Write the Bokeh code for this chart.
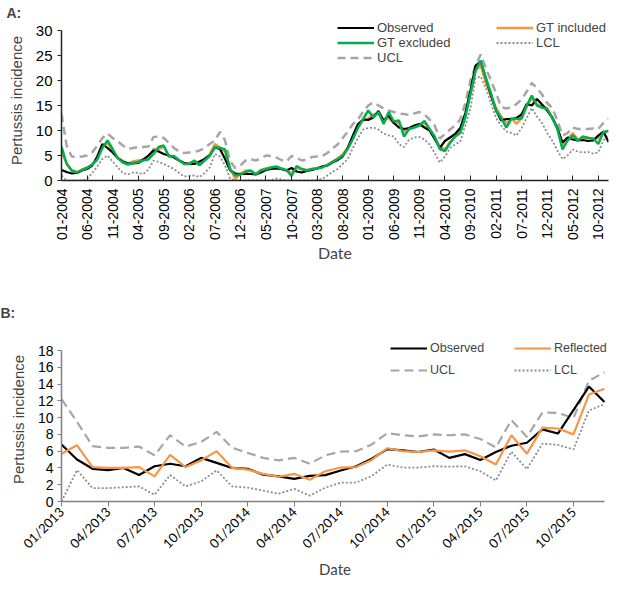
import math
from bokeh.plotting import figure
from bokeh.models import Range1d, FixedTicker, Legend, LegendItem, Title
from bokeh.layouts import column
from bokeh.embed import file_html
from bokeh.resources import INLINE

# ---------------- Panel A data (monthly, 01-2004 .. 12-2012) ----------------
a_tick_labels = ["01-2004", "06-2004", "11-2004", "04-2005", "09-2005", "02-2006",
                 "07-2006", "12-2006", "05-2007", "10-2007", "03-2008", "08-2008",
                 "01-2009", "06-2009", "11-2009", "04-2010", "09-2010", "02-2011",
                 "07-2011", "12-2011", "05-2012", "10-2012"]

a_observed = [2.1, 1.7, 1.4, 1.5, 2.0, 2.3, 3.0, 4.8, 7.3, 6.5, 5.6, 4.5,
              3.8, 3.4, 3.4, 3.5, 4.2, 5.0, 6.0, 5.8, 5.3, 5.0, 4.6, 4.0,
              3.5, 3.3, 3.3, 3.8, 4.3, 5.0, 6.6, 6.3, 4.3, 2.0, 1.4, 1.3,
              1.3, 1.3, 1.2, 1.6, 2.1, 2.3, 2.4, 2.3, 2.0, 2.5, 1.8, 1.6,
              1.9, 2.1, 2.4, 2.8, 3.0, 3.6, 4.1, 4.8, 6.5, 9.0, 11.3, 12.2,
              12.1, 12.6, 13.9, 12.0, 13.0, 11.5, 10.6, 10.3, 10.5, 11.0, 11.3, 10.6,
              10.0, 8.3, 6.5, 7.9, 8.6, 9.3, 10.5, 13.5, 18.0, 23.0, 23.8, 20.5,
              17.0, 14.0, 12.0, 12.3, 12.3, 12.5, 13.2, 15.3, 15.0, 16.3, 15.2, 14.0,
              12.6, 10.5, 7.6, 8.6, 8.2, 8.0, 8.1, 7.9, 8.0, 9.0, 9.8, 7.7]

a_gt_included = [5.7, 3.5, 2.0, 1.7, 2.2, 2.6, 3.2, 4.5, 6.8, 7.5, 6.0, 4.5,
                 3.8, 3.4, 3.8, 4.0, 4.2, 4.5, 6.3, 6.2, 6.8, 5.0, 4.8, 4.0,
                 3.4, 3.5, 3.8, 3.0, 4.3, 5.2, 7.3, 6.6, 5.8, 2.4, 0.3, 1.4,
                 2.0, 1.9, 1.3, 2.1, 2.4, 2.6, 2.6, 2.3, 2.0, 1.5, 2.5, 2.2,
                 2.1, 2.3, 2.5, 2.8, 3.1, 3.8, 4.4, 5.2, 6.6, 8.5, 10.8, 12.0,
                 12.4, 13.2, 13.4, 12.0, 12.5, 11.5, 11.5, 9.8, 10.3, 10.8, 11.2, 11.5,
                 10.2, 8.6, 6.8, 6.2, 7.7, 8.8, 9.8, 13.0, 17.5, 22.0, 23.0, 19.5,
                 17.0, 14.5, 12.8, 11.5, 12.5, 11.3, 12.5, 14.8, 16.5, 15.2, 14.8, 14.5,
                 12.5, 10.5, 7.0, 8.2, 9.5, 8.2, 8.5, 8.6, 8.2, 8.5, 9.5, 10.0]

a_gt_excluded = [6.8, 3.3, 2.0, 1.6, 2.1, 2.5, 3.2, 4.2, 6.5, 8.0, 6.3, 4.5,
                 3.6, 3.2, 3.5, 3.7, 4.0, 4.2, 5.3, 6.7, 7.0, 4.8, 4.9, 4.0,
                 3.3, 3.3, 4.0, 3.1, 4.0, 4.9, 6.7, 6.5, 6.2, 2.2, 1.0, 1.2,
                 1.7, 2.0, 1.2, 2.0, 2.3, 2.6, 2.8, 2.4, 2.1, 0.9, 2.9, 2.3,
                 2.0, 2.3, 2.4, 2.6, 3.1, 3.7, 4.3, 5.0, 6.3, 8.3, 10.5, 12.3,
                 14.0, 12.6, 13.7, 11.3, 13.7, 11.8, 12.0, 8.8, 10.3, 10.6, 11.0, 11.9,
                 10.3, 8.8, 6.3, 5.9, 7.5, 8.8, 9.5, 12.7, 17.3, 22.0, 24.0, 20.5,
                 17.5, 14.0, 12.5, 10.6, 12.3, 12.3, 12.4, 15.0, 17.0, 15.0, 14.6, 14.3,
                 12.5, 10.3, 6.2, 8.0, 9.0, 8.0, 8.8, 8.5, 8.4, 7.3, 9.7, 9.9]

a_ucl = [13.3, 7.0, 4.8, 4.7, 4.8, 5.0, 5.6, 7.0, 8.5, 9.4, 8.5, 7.8,
         7.0, 6.3, 6.5, 6.7, 6.7, 6.8, 8.7, 8.8, 8.5, 7.5, 6.5, 5.8,
         5.5, 5.6, 5.7, 6.0, 6.5, 7.3, 8.0, 9.7, 8.0, 3.8, 2.5, 3.0,
         4.0, 4.3, 4.0, 4.4, 5.0, 4.9, 4.6, 4.1, 3.8, 4.9, 4.5, 4.0,
         4.2, 4.7, 4.8, 4.9, 5.5, 6.4, 7.2, 8.5, 9.8, 11.3, 12.2, 13.8,
         15.0, 15.6, 15.0, 14.4, 14.0, 13.7, 13.4, 13.3, 13.1, 13.4, 13.7, 13.2,
         12.2, 11.0, 8.4, 9.3, 10.2, 11.0, 12.2, 15.5, 20.0, 23.0, 25.2, 22.5,
         20.0, 17.5, 14.7, 14.4, 14.6, 15.3, 16.2, 17.8, 19.5, 18.5, 17.2, 15.5,
         14.5, 12.0, 9.0, 9.5, 10.6, 10.3, 10.3, 10.3, 10.4, 10.3, 11.5, 12.3]

a_lcl = [1.0, 0.0, 0.0, 0.0, 0.0, 0.3, 1.5, 2.8, 4.3, 5.0, 3.8, 2.6,
         1.5, 1.2, 1.6, 1.5, 1.3, 2.2, 4.0, 3.7, 3.3, 2.8, 2.3, 1.5,
         0.8, 0.9, 1.0, 0.7, 1.5, 2.6, 5.3, 4.8, 3.0, 0.3, 0.0, 0.0,
         0.0, 0.0, 0.0, 0.0, 0.0, 0.1, 0.4, 0.2, 0.0, 0.0, 0.0, 0.0,
         0.0, 0.0, 0.1, 0.3, 1.0, 1.7, 2.3, 3.3, 4.3, 6.5, 8.5, 10.2,
         10.5, 10.6, 10.2, 9.4, 9.0, 8.8, 7.3, 6.7, 8.2, 8.6, 8.7, 8.2,
         7.2, 5.5, 3.6, 4.8, 6.5, 7.2, 7.8, 11.0, 14.5, 20.5, 20.8, 18.5,
         15.5, 12.5, 11.0, 9.8, 9.5, 9.0, 10.5, 12.5, 14.5, 12.8, 11.5, 9.5,
         8.0, 6.0, 4.3, 5.0, 6.2, 5.8, 5.6, 5.7, 5.4, 5.6, 8.0, 9.3]

# ---------------- Panel B data (monthly, 01/2013 .. 12/2015) ----------------
b_tick_labels = ["01/2013", "04/2013", "07/2013", "10/2013", "01/2014", "04/2014",
                 "07/2014", "10/2014", "01/2015", "04/2015", "07/2015", "10/2015"]

b_observed = [6.8, 5.0, 3.9, 3.75, 4.0, 3.15, 4.2, 4.5, 4.2, 5.2, 4.6, 4.0,
              3.9, 3.2, 3.0, 2.7, 3.05, 3.15, 3.7, 4.2, 5.1, 6.25, 6.1, 5.9,
              6.2, 5.2, 5.65, 4.95, 5.9, 6.65, 7.0, 8.6, 8.1, 10.9, 13.7, 11.85]

b_reflected = [5.7, 6.7, 4.1, 4.0, 4.0, 4.1, 3.0, 5.55, 4.1, 4.9, 6.0, 4.0,
               3.8, 3.3, 2.95, 3.3, 2.6, 3.6, 4.05, 4.1, 4.95, 6.35, 6.0, 5.9,
               6.1, 5.95, 6.1, 5.4, 4.4, 7.9, 5.7, 8.8, 8.7, 8.0, 12.75, 13.45]

b_ucl = [12.2, 9.5, 6.6, 6.4, 6.4, 6.55, 5.5, 7.9, 6.55, 7.1, 8.3, 6.4,
         5.8, 5.2, 4.9, 5.2, 4.5, 5.5, 5.95, 6.0, 6.8, 8.15, 7.9, 7.75,
         8.0, 7.9, 8.0, 7.45, 6.45, 9.7, 7.7, 10.6, 10.55, 9.95, 14.4, 15.4]

b_lcl = [0.0, 3.75, 1.6, 1.6, 1.7, 1.8, 0.8, 3.15, 1.8, 2.4, 3.7, 1.8,
         1.65, 1.3, 0.93, 1.5, 0.7, 1.65, 2.25, 2.25, 3.05, 4.4, 4.05, 4.05,
         4.2, 4.15, 4.2, 3.6, 2.5, 5.95, 3.85, 6.9, 6.75, 6.2, 10.85, 11.6]

ORANGE = "#F79646"
GREEN = "#00B050"
GRAY_DASH = "#A6A6A6"
GRAY_DOT = "#8C8C8C"
SANS = "Liberation Sans"
HUMAN = "Lato"


def style_common(p):
    p.outline_line_color = None
    p.xgrid.grid_line_color = None
    p.ygrid.grid_line_color = None
    p.background_fill_color = None
    p.border_fill_color = None


# ======================= Panel A =======================
xa = list(range(len(a_observed)))
pa = figure(width=609, height=270, output_backend="svg", toolbar_location=None,
            x_range=Range1d(0, len(a_observed) - 1), y_range=Range1d(0, 32.0),
            min_border_left=55, min_border_right=1, min_border_top=20, min_border_bottom=90)
style_common(pa)

r_lcl = pa.line(xa, a_lcl, line_color=GRAY_DOT, line_width=1.8, line_dash="2 2")
r_ucl = pa.line(xa, a_ucl, line_color=GRAY_DASH, line_width=2.5, line_dash="8 5")
r_inc = pa.line(xa, a_gt_included, line_color=ORANGE, line_width=2.5)
r_obs = pa.line(xa, a_observed, line_color="black", line_width=2.2)
r_exc = pa.line(xa, a_gt_excluded, line_color=GREEN, line_width=2.5)

pa.xaxis.ticker = FixedTicker(ticks=[5 * i for i in range(len(a_tick_labels))])
pa.xaxis.major_label_overrides = {5 * i: lab for i, lab in enumerate(a_tick_labels)}
pa.xaxis.major_label_orientation = math.pi / 2
pa.xaxis.major_tick_in = 5
pa.xaxis.major_tick_out = 0
pa.xaxis.minor_tick_line_color = None
pa.xaxis.major_label_standoff = 8
pa.xaxis.axis_line_color = "#222222"
pa.xaxis.major_tick_line_color = "#222222"
pa.xaxis.axis_line_width = 1.5
pa.xaxis.major_label_text_font = SANS
pa.xaxis.major_label_text_font_size = "14px"
pa.xaxis.major_label_text_color = "black"
pa.xaxis.axis_label = "Date"
pa.xaxis.axis_label_text_font = HUMAN
pa.xaxis.axis_label_text_font_size = "16px"
pa.xaxis.axis_label_text_font_style = "normal"
pa.xaxis.axis_label_standoff = 0

pa.yaxis.ticker = FixedTicker(ticks=[0, 5, 10, 15, 20, 25, 30])
pa.yaxis.bounds = (0, 30)
pa.yaxis.major_tick_in = 0
pa.yaxis.major_tick_out = 4
pa.yaxis.minor_tick_line_color = None
pa.yaxis.axis_line_color = "#222222"
pa.yaxis.major_tick_line_color = "#222222"
pa.yaxis.axis_line_width = 1.5
pa.yaxis.major_label_standoff = 5
pa.yaxis.major_label_text_font = SANS
pa.yaxis.major_label_text_font_size = "15px"
pa.yaxis.major_label_text_color = "black"
pa.yaxis.axis_label = "Pertussis incidence"
pa.yaxis.axis_label_text_font = SANS
pa.yaxis.axis_label_text_font_size = "15px"
pa.yaxis.axis_label_text_font_style = "normal"
pa.yaxis.axis_label_standoff = 8

leg_a = Legend(items=[LegendItem(label="Observed", renderers=[r_obs]),
                      LegendItem(label="GT included", renderers=[r_inc]),
                      LegendItem(label="GT excluded", renderers=[r_exc]),
                      LegendItem(label="LCL", renderers=[r_lcl]),
                      LegendItem(label="UCL", renderers=[r_ucl])],
               location=(276, 115), orientation="horizontal", ncols=2,
               padding=0, margin=0, spacing=0, border_line_alpha=0,
               background_fill_alpha=0, glyph_width=37, glyph_height=15,
               label_height=15, label_width=119, label_standoff=3,
               label_text_font=SANS, label_text_font_size="13px")
pa.add_layout(leg_a)

pa.add_layout(Title(text="A:", align="left", offset=-55, standoff=0,
                    text_font=SANS, text_font_size="14px", text_font_style="bold"),
              "above")

# ======================= Panel B =======================
xb = list(range(len(b_observed)))
pb = figure(width=609, height=313, output_backend="svg", toolbar_location=None,
            x_range=Range1d(0, len(b_observed) - 1 + 0.26), y_range=Range1d(0, 19.55),
            min_border_left=61, min_border_right=0, min_border_top=67, min_border_bottom=82)
style_common(pb)

rb_lcl = pb.line(xb, b_lcl, line_color=GRAY_DOT, line_width=1.8, line_dash="2 2")
rb_ucl = pb.line(xb, b_ucl, line_color=GRAY_DASH, line_width=2.2, line_dash="9 5")
rb_obs = pb.line(xb, b_observed, line_color="black", line_width=2.2)
rb_ref = pb.line(xb, b_reflected, line_color=ORANGE, line_width=2.2)

pb.xaxis.ticker = FixedTicker(ticks=[3 * i for i in range(len(b_tick_labels))])
pb.xaxis.major_label_overrides = {3 * i: lab for i, lab in enumerate(b_tick_labels)}
pb.xaxis.bounds = (0, len(b_observed) - 1)
pb.xaxis.major_label_orientation = math.pi / 4
pb.xaxis.major_tick_in = 0
pb.xaxis.major_tick_out = 5
pb.xaxis.minor_tick_line_color = None
pb.xaxis.major_label_standoff = 3
pb.xaxis.axis_line_color = "#808080"
pb.xaxis.major_tick_line_color = "#808080"
pb.xaxis.axis_line_width = 1.5
pb.xaxis.major_label_text_font = HUMAN
pb.xaxis.major_label_text_font_size = "13px"
pb.xaxis.major_label_text_color = "black"
pb.xaxis.axis_label = "Date"
pb.xaxis.axis_label_text_font = HUMAN
pb.xaxis.axis_label_text_font_size = "15px"
pb.xaxis.axis_label_text_font_style = "normal"
pb.xaxis.axis_label_standoff = 0

pb.yaxis.ticker = FixedTicker(ticks=[0, 2, 4, 6, 8, 10, 12, 14, 16, 18])
pb.yaxis.bounds = (0, 18)
pb.yaxis.major_tick_in = 0
pb.yaxis.major_tick_out = 4
pb.yaxis.minor_tick_line_color = None
pb.yaxis.axis_line_color = "#808080"
pb.yaxis.major_tick_line_color = "#808080"
pb.yaxis.axis_line_width = 1.5
pb.yaxis.major_label_standoff = 4
pb.yaxis.major_label_text_font = SANS
pb.yaxis.major_label_text_font_size = "14px"
pb.yaxis.major_label_text_color = "black"
pb.yaxis.axis_label = "Pertussis incidence"
pb.yaxis.axis_label_text_font = SANS
pb.yaxis.axis_label_text_font_size = "15px"
pb.yaxis.axis_label_text_font_style = "normal"
pb.yaxis.axis_label_standoff = 8

leg_b = Legend(items=[LegendItem(label="Observed", renderers=[rb_obs]),
                      LegendItem(label="Reflected", renderers=[rb_ref]),
                      LegendItem(label="UCL", renderers=[rb_ucl]),
                      LegendItem(label="LCL", renderers=[rb_lcl])],
               location=(329, 120), orientation="horizontal", ncols=2,
               padding=0, margin=0, spacing=0, border_line_alpha=0,
               background_fill_alpha=0, glyph_width=37, glyph_height=22,
               label_height=22, label_width=84, label_standoff=3,
               label_text_font=SANS, label_text_font_size="12.5px")
pb.add_layout(leg_b)

pb.add_layout(Title(text="B:", align="left", offset=-61, standoff=34,
                    text_font=SANS, text_font_size="14px", text_font_style="bold"),
              "above")

layout = column(pa, pb, spacing=0)
open("out.html", "w").write(file_html(layout, INLINE))
